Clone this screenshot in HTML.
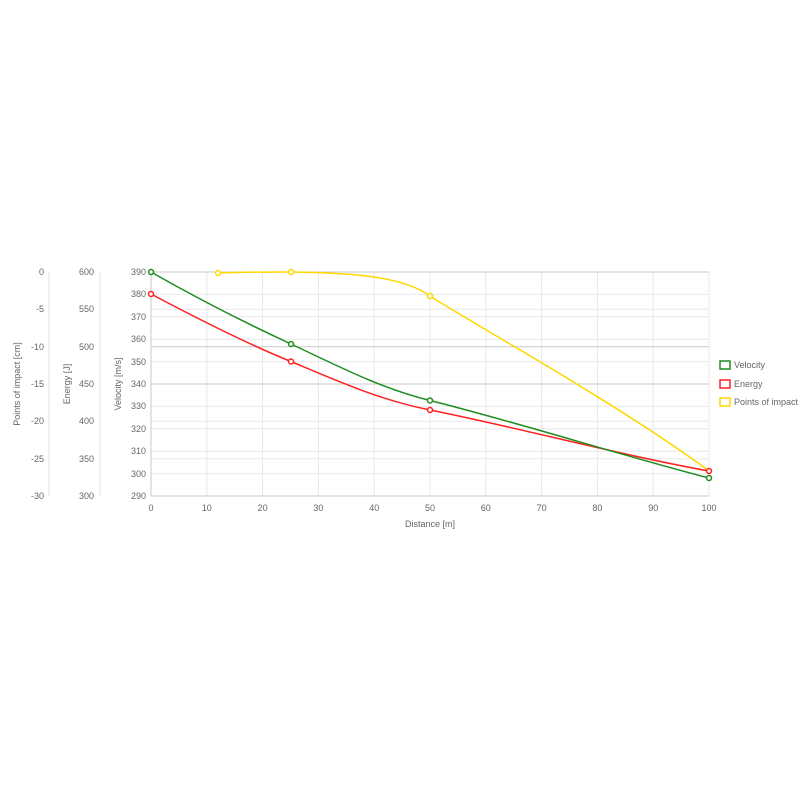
<!DOCTYPE html>
<html><head><meta charset="utf-8"><style>body{margin:0;background:#fff}svg{display:block}text{font-family:"Liberation Sans",sans-serif;font-size:9px;fill:#666}</style></head>
<body>
<svg width="800" height="800" xmlns="http://www.w3.org/2000/svg">
<g stroke="#e8e8e8" stroke-width="1">
<line x1="151" y1="294.4" x2="709" y2="294.4"/><line x1="151" y1="316.8" x2="709" y2="316.8"/><line x1="151" y1="339.2" x2="709" y2="339.2"/><line x1="151" y1="361.6" x2="709" y2="361.6"/><line x1="151" y1="406.4" x2="709" y2="406.4"/><line x1="151" y1="428.8" x2="709" y2="428.8"/><line x1="151" y1="451.2" x2="709" y2="451.2"/><line x1="151" y1="473.6" x2="709" y2="473.6"/>
<line x1="151" y1="309.3" x2="709" y2="309.3"/><line x1="151" y1="421.3" x2="709" y2="421.3"/><line x1="151" y1="458.7" x2="709" y2="458.7"/>
<line x1="206.8" y1="272" x2="206.8" y2="496"/><line x1="262.6" y1="272" x2="262.6" y2="496"/><line x1="318.4" y1="272" x2="318.4" y2="496"/><line x1="374.2" y1="272" x2="374.2" y2="496"/><line x1="430" y1="272" x2="430" y2="496"/><line x1="485.8" y1="272" x2="485.8" y2="496"/><line x1="541.6" y1="272" x2="541.6" y2="496"/><line x1="597.4" y1="272" x2="597.4" y2="496"/><line x1="653.2" y1="272" x2="653.2" y2="496"/><line x1="709" y1="272" x2="709" y2="496"/>
</g>
<g stroke="#c8c8c8"><line x1="151" y1="272" x2="709" y2="272"/><line x1="151" y1="346.7" x2="709" y2="346.7"/><line x1="151" y1="384" x2="709" y2="384"/><line x1="151" y1="496" x2="709" y2="496"/><line x1="151" y1="272" x2="151" y2="496"/></g>
<g stroke="#e0e0e0"><line x1="49" y1="272" x2="49" y2="496"/><line x1="100" y1="272" x2="100" y2="496"/></g>
<g text-anchor="end">
<text x="44" y="275">0</text><text x="44" y="312">-5</text><text x="44" y="350">-10</text><text x="44" y="387">-15</text><text x="44" y="424">-20</text><text x="44" y="462">-25</text><text x="44" y="499">-30</text>
<text x="94" y="275">600</text><text x="94" y="312">550</text><text x="94" y="350">500</text><text x="94" y="387">450</text><text x="94" y="424">400</text><text x="94" y="462">350</text><text x="94" y="499">300</text>
<text x="146" y="275">390</text><text x="146" y="297">380</text><text x="146" y="320">370</text><text x="146" y="342">360</text><text x="146" y="365">350</text><text x="146" y="387">340</text><text x="146" y="409">330</text><text x="146" y="432">320</text><text x="146" y="454">310</text><text x="146" y="477">300</text><text x="146" y="499">290</text>
</g>
<g text-anchor="middle">
<text x="151" y="511">0</text><text x="206.8" y="511">10</text><text x="262.6" y="511">20</text><text x="318.4" y="511">30</text><text x="374.2" y="511">40</text><text x="430" y="511">50</text><text x="485.8" y="511">60</text><text x="541.6" y="511">70</text><text x="597.4" y="511">80</text><text x="653.2" y="511">90</text><text x="709" y="511">100</text>
<text x="430" y="527">Distance [m]</text>
<text transform="translate(20,384) rotate(-90)">Points of impact [cm]</text>
<text transform="translate(70,384) rotate(-90)">Energy [J]</text>
<text transform="translate(121,384) rotate(-90)">Velocity [m/s]</text>
</g>
<g fill="none" stroke-width="1.5">
<path stroke="#ffd700" d="M218,273 C240,272 265,272 291,272 C340,273 400,274 430,296 C470,322 620,405 709,471"/>
<path stroke="#ff2020" d="M151,294 C200,320 250,345 291,361.5 C340,382 380,400 430,410 C520,428 620,455 709,471"/>
<path stroke="#1e8c1e" d="M151,272 C200,300 250,325 291,344 C340,367 380,388 430,400.5 C520,423 620,455 709,478"/>
</g>
<g fill="#fff" stroke-width="1.5">
<g stroke="#ffd700"><circle cx="218" cy="273" r="2.5"/><circle cx="291" cy="272" r="2.5"/><circle cx="430" cy="296" r="2.5"/></g>
<g stroke="#ff2020"><circle cx="151" cy="294" r="2.5"/><circle cx="291" cy="361.5" r="2.5"/><circle cx="430" cy="410" r="2.5"/><circle cx="709" cy="471" r="2.5"/></g>
<g stroke="#1e8c1e"><circle cx="151" cy="272" r="2.5"/><circle cx="291" cy="344" r="2.5"/><circle cx="430" cy="400.5" r="2.5"/><circle cx="709" cy="478" r="2.5"/></g>
</g>
<g fill="none" stroke-width="1.5">
<rect x="720" y="361" width="10" height="8" stroke="#1e8c1e"/>
<rect x="720" y="380" width="10" height="8" stroke="#ff2020"/>
<rect x="720" y="398" width="10" height="8" stroke="#ffd700"/>
</g>
<text x="734" y="368">Velocity</text><text x="734" y="387">Energy</text><text x="734" y="405">Points of impact</text>
</svg>
</body></html>
